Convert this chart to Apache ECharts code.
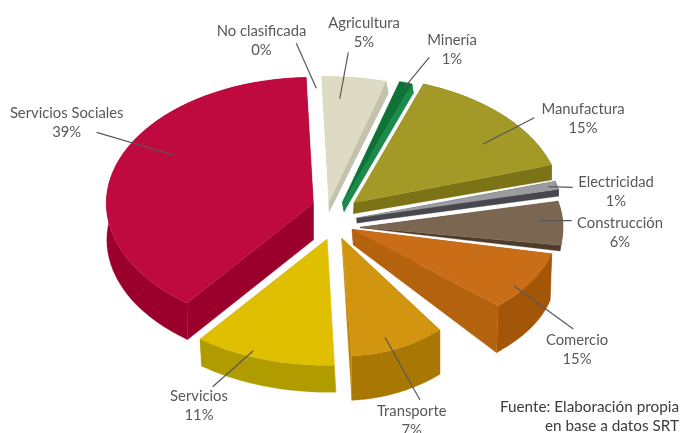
<!DOCTYPE html>
<html>
<head>
<meta charset="utf-8">
<style>html,body{margin:0;padding:0;background:#fff}#c{width:681px;height:433px}</style>
<script src="https://cdn.jsdelivr.net/npm/echarts@6/dist/echarts.min.js"></script>
</head>
<body>
<div id="c"></div>
<script>
const categories = ['No clasificada','Agricultura','Minería','Manufactura','Electricidad','Construcción','Comercio','Transporte','Servicios','Servicios Sociales'];
const shares = [0,5,1,15,1,6,15,7,11,39];
const sourceLines = ['Fuente: Elaboración propia','en base a datos SRT'];

const startAngle = -2;
// appearance of each wedge: explode position, radii, angle trim, wall offsets, colours
const wedgeStyle = [
  null,
  {a:[329,201.7],r:[207,125],trim:[0,0],da:[0.3,10],dr:[2.3,12],face:'#dddbc3',rim:'#c4c2ac',w0:'#c4c2ac',w1:'#c4c2ac'},
  {a:[342.3,202.7],r:[208,126],trim:[0,0],da:[1.7,9],dr:[1.3,9.3],face:'#0f7337',rim:'#1b8b4b',w0:'#1b8b4b',w1:'#1b8b4b'},
  {a:[354,202.7],r:[207,126],trim:[0,-1],da:[-0.5,11],dr:[0,15],face:'#a29926',rim:'#7c7216',w0:'#7c7216',w1:'#7c7216'},
  {a:[356.7,218],r:[207,130],trim:[0,0],da:[0.3,5],dr:[0,7],face:'#9c9ca0',rim:'#47474d',w0:'#47474d',w1:'#47474d'},
  {a:[360,227.3],r:[203,118],trim:[0,0],da:[0,0.5],dr:[-0.7,5.7],face:'#7a6651',rim:'#4e3b2a',w0:'#4e3b2a',w1:'#4e3b2a'},
  {a:[352,229.3],r:[205,109],trim:[4.2,-18.3],da:[1.3,15.7],dr:[-1.7,47],face:'#c96d17',rim:'#a35608',w0:'#a35608',w1:'#b5620f'},
  {a:[341.7,238.3],r:[156,118],trim:[-11.8,-1.7],da:[0,0],dr:[0,44.3],face:'#d2950f',rim:'#a97804',w0:'#a97804',w1:'#bd8508'},
  {a:[327,239.3],r:[208,126],trim:[0,0],da:[0,0],dr:[1.6,27],face:'#dfbf00',rim:'#b19c00',w0:'#c9ad00',w1:'#b19c00'},
  {a:[313.3,203.3],r:[207,126],trim:[0,0],da:[0,36.7],dr:[0.5,36.5],face:'#bf0a3f',rim:'#9b002c',w0:'#9b002c',w1:'#9b002c'}
];
const labelStyle = [
  {at:[261.5,31.5],lead:[296.3,43.3,316.3,88.3]},
  {at:[364,23.5],lead:[348.3,52.3,339.7,99]},
  {at:[452,40.5],lead:[429.3,57.3,404.3,87.7]},
  {at:[583,109.5],lead:[534.3,117.7,482.7,144.3]},
  {at:[616,182.5],lead:[572.7,187.3,548.3,186.7]},
  {at:[620,223.5],lead:[571.7,220.7,538.3,220.7]},
  {at:[577,340.5],lead:[573.3,329,514,286]},
  {at:[411.7,411.5],lead:[420,400,385,337.3]},
  {at:[199,396],lead:[212.7,386.7,253.3,350.7]},
  {at:[66.7,113.5],lead:[96.7,132.3,173.3,155]}
];
const labelFont = '14.8px Lato';
const textColor = '#58585a';
const total = shares.reduce((a,b)=>a+b,0);

function renderItem(params, api){
  const i = params.dataIndex, v = api.value(0);
  const before = shares.slice(0,i).reduce((a,b)=>a+b,0);
  const children = [];
  const s = wedgeStyle[i], l = labelStyle[i];
  if (s && v > 0) {
    const t0 = startAngle + before/total*360 + s.trim[0];
    const t1 = startAngle + (before+v)/total*360 + s.trim[1];
    const pt = t => [s.a[0]+s.r[0]*Math.sin(t*Math.PI/180), s.a[1]-s.r[1]*Math.cos(t*Math.PI/180)];
    const shift = (p,d) => [p[0]+d[0],p[1]+d[1]];
    const rimPts = [];
    const n = 48;
    for (let k=0;k<=n;k++) rimPts.push(pt(t0+(t1-t0)*k/n));
    const poly = (points,fill,z) => ({type:'polygon',shape:{points},style:{fill,stroke:fill,lineWidth:0.3},z2:z});
    children.push(poly(rimPts.concat(rimPts.map(p=>shift(p,s.dr)).reverse()),s.rim,1));
    children.push(poly([s.a,rimPts[0],shift(rimPts[0],s.dr),shift(s.a,s.da)],s.w0,2));
    children.push(poly([s.a,rimPts[n],shift(rimPts[n],s.dr),shift(s.a,s.da)],s.w1,2));
    children.push(poly([s.a].concat(rimPts),s.face,3));
  }
  children.push({type:'line',shape:{x1:l.lead[0],y1:l.lead[1],x2:l.lead[2],y2:l.lead[3]},style:{stroke:textColor,lineWidth:1.2},z2:10});
  children.push({type:'text',z2:11,style:{text:categories[i],x:l.at[0],y:l.at[1],align:'center',verticalAlign:'middle',font:labelFont,fill:textColor}});
  children.push({type:'text',z2:11,style:{text:v+'%',x:l.at[0],y:l.at[1]+19,align:'center',verticalAlign:'middle',font:labelFont,fill:textColor}});
  return {type:'group',children};
}

const chart = echarts.init(document.getElementById('c'),null,{renderer:'canvas'});
chart.setOption({
  animation:false,
  backgroundColor:'#fff',
  series:[{type:'custom',coordinateSystem:'none',silent:true,clip:false,renderItem,data:shares.map(v=>[v])}],
  graphic:sourceLines.map((t,k)=>({type:'text',silent:true,z:20,style:{text:t,x:679,y:407+k*19,align:'right',verticalAlign:'middle',font:'15.3px Lato',fill:'#3c3c3e'}}))
});
</script>
</body>
</html>
